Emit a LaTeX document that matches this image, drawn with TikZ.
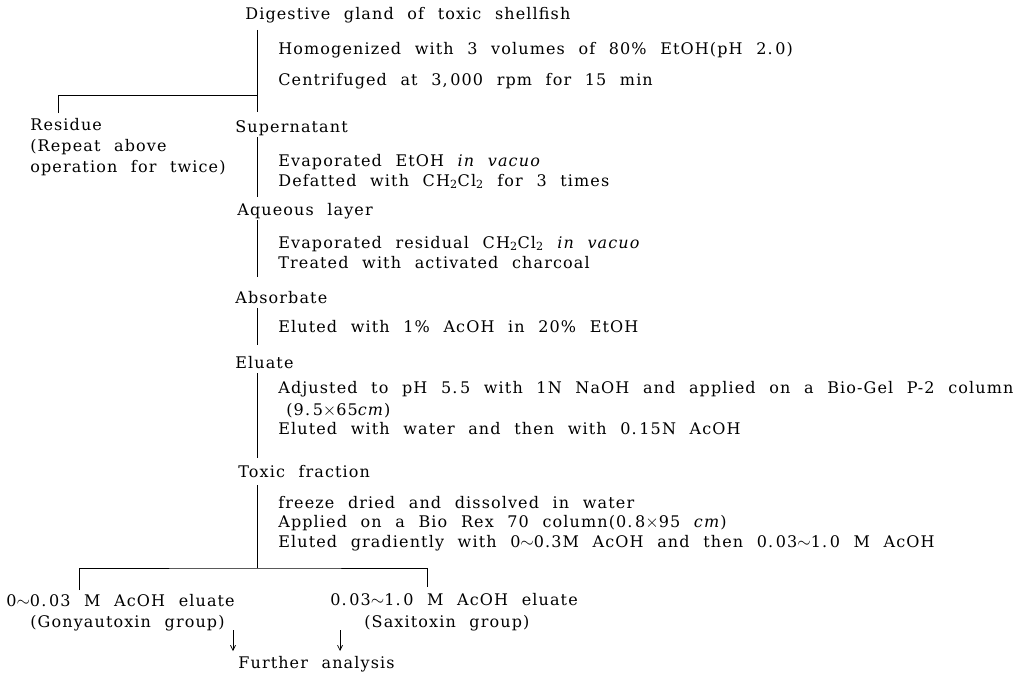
\documentclass[tikz,border=0pt]{standalone}
\usepackage{fontspec}
\setmainfont[WordSpace=2.2, LetterSpace=7]{DejaVu Serif}
\usetikzlibrary{arrows.meta}

\begin{document}
\begin{tikzpicture}[x=1pt, y=-1pt, line width=0.7pt,
    txt/.style = {anchor=base west, inner sep=0pt, font=\fontsize{16}{17}\selectfont},
    arr/.style = {-{Straight Barb[length=5pt,width=5pt]}}]
\useasboundingbox (0,0) rectangle (1018,677);

% labels of the main chain
\node[txt] (gland)   at (245,20)  {Digestive gland of toxic shellfish};
\node[txt] (super)   at (235,132) {Supernatant};
\node[txt] (aqueous) at (237,215) {Aqueous layer};
\node[txt] (absorb)  at (235,303) {Absorbate};
\node[txt] (eluate)  at (235,368) {Eluate};
\node[txt] (toxic)   at (238,477) {Toxic fraction};

% operations
\node[txt] (homo)   at (278,55)  {Homogenized with 3 volumes of 80\% EtOH(pH 2.\,0)};
\node[txt] (centri) at (278,85)  {Centrifuged at 3,\,000 rpm for 15 min};
\node[txt] (evap1)  at (278,166) {Evaporated EtOH \textit{in vacuo}};
\node[txt] (defat)  at (278,186) {Defatted with CH\textsubscript{2}Cl\textsubscript{2} for 3 times};
\node[txt] (evap2)  at (278,248) {Evaporated residual CH\textsubscript{2}Cl\textsubscript{2} \textit{in vacuo}};
\node[txt] (treat)  at (278,268) {Treated with activated charcoal};
\node[txt] (elu1)   at (278,332) {Eluted with 1\% AcOH in 20\% EtOH};
\node[txt] (adj)    at (278,393) {Adjusted to pH 5.\,5 with 1N NaOH and applied on a Bio-Gel P-2 column};
\node[txt] (col)    at (286,415) {(9.\,5$\times$65\textit{cm})};
\node[txt] (elu2)   at (278,434) {Eluted with water and then with 0.\,15N AcOH};
\node[txt] (freeze) at (278,508) {freeze dried and dissolved in water};
\node[txt] (bio)    at (278,527) {Applied on a Bio Rex 70 column(0.\,8$\times$95 \textit{cm})};
\node[txt] (elu3)   at (278,547) {Eluted gradiently with 0$\sim$0.3M AcOH and then 0.\,03$\sim$1.\,0 M AcOH};

% side and end products
\node[txt] (residue) at (30,130) {Residue};
\node[txt] (rep1)    at (30,151) {(Repeat above};
\node[txt] (rep2)    at (30,172) {operation for twice)};
\node[txt] (gony)    at (6,606)  {0$\sim$0.\,03 M AcOH eluate};
\node[txt] (gonyg)   at (30,627) {(Gonyautoxin group)};
\node[txt] (saxi)    at (330,605) {0.\,03$\sim$1.\,0 M AcOH eluate};
\node[txt] (saxig)   at (364,627) {(Saxitoxin group)};
\node[txt] (further) at (238,668) {Further analysis};

\coordinate (sp) at (257,0);
\coordinate (split) at (257,95);
\coordinate (fork) at (257,568);
\coordinate (rt) at (58,113);
\coordinate (gt) at (79,590);
\coordinate (st) at (427,587);
\coordinate (a1) at (233,0);
\coordinate (a2) at (340,0);

% spine
\draw ([yshift=-10pt]gland.base -| sp) -- ([yshift=20pt]super.base -| sp);
\draw ([yshift=-5pt]super.base -| sp) -- ([yshift=18pt]aqueous.base -| sp);
\draw ([yshift=-5pt]aqueous.base -| sp) -- ([yshift=26pt]absorb.base -| sp);
\draw ([yshift=-5pt]absorb.base -| sp) -- ([yshift=23pt]eluate.base -| sp);
\draw ([yshift=-5pt]eluate.base -| sp) -- ([yshift=19pt]toxic.base -| sp);
\draw ([yshift=-8pt]toxic.base -| sp) -- (fork);

% branches
\draw (rt) |- (split);
\draw (gt) |- (fork) -| (st);

\draw[arr] ([yshift=-3pt]gonyg.base -| a1) -- ([yshift=17pt]further.base -| a1);
\draw[arr] ([yshift=-3pt]saxig.base -| a2) -- ([yshift=17pt]further.base -| a2);
\end{tikzpicture}
\end{document}
